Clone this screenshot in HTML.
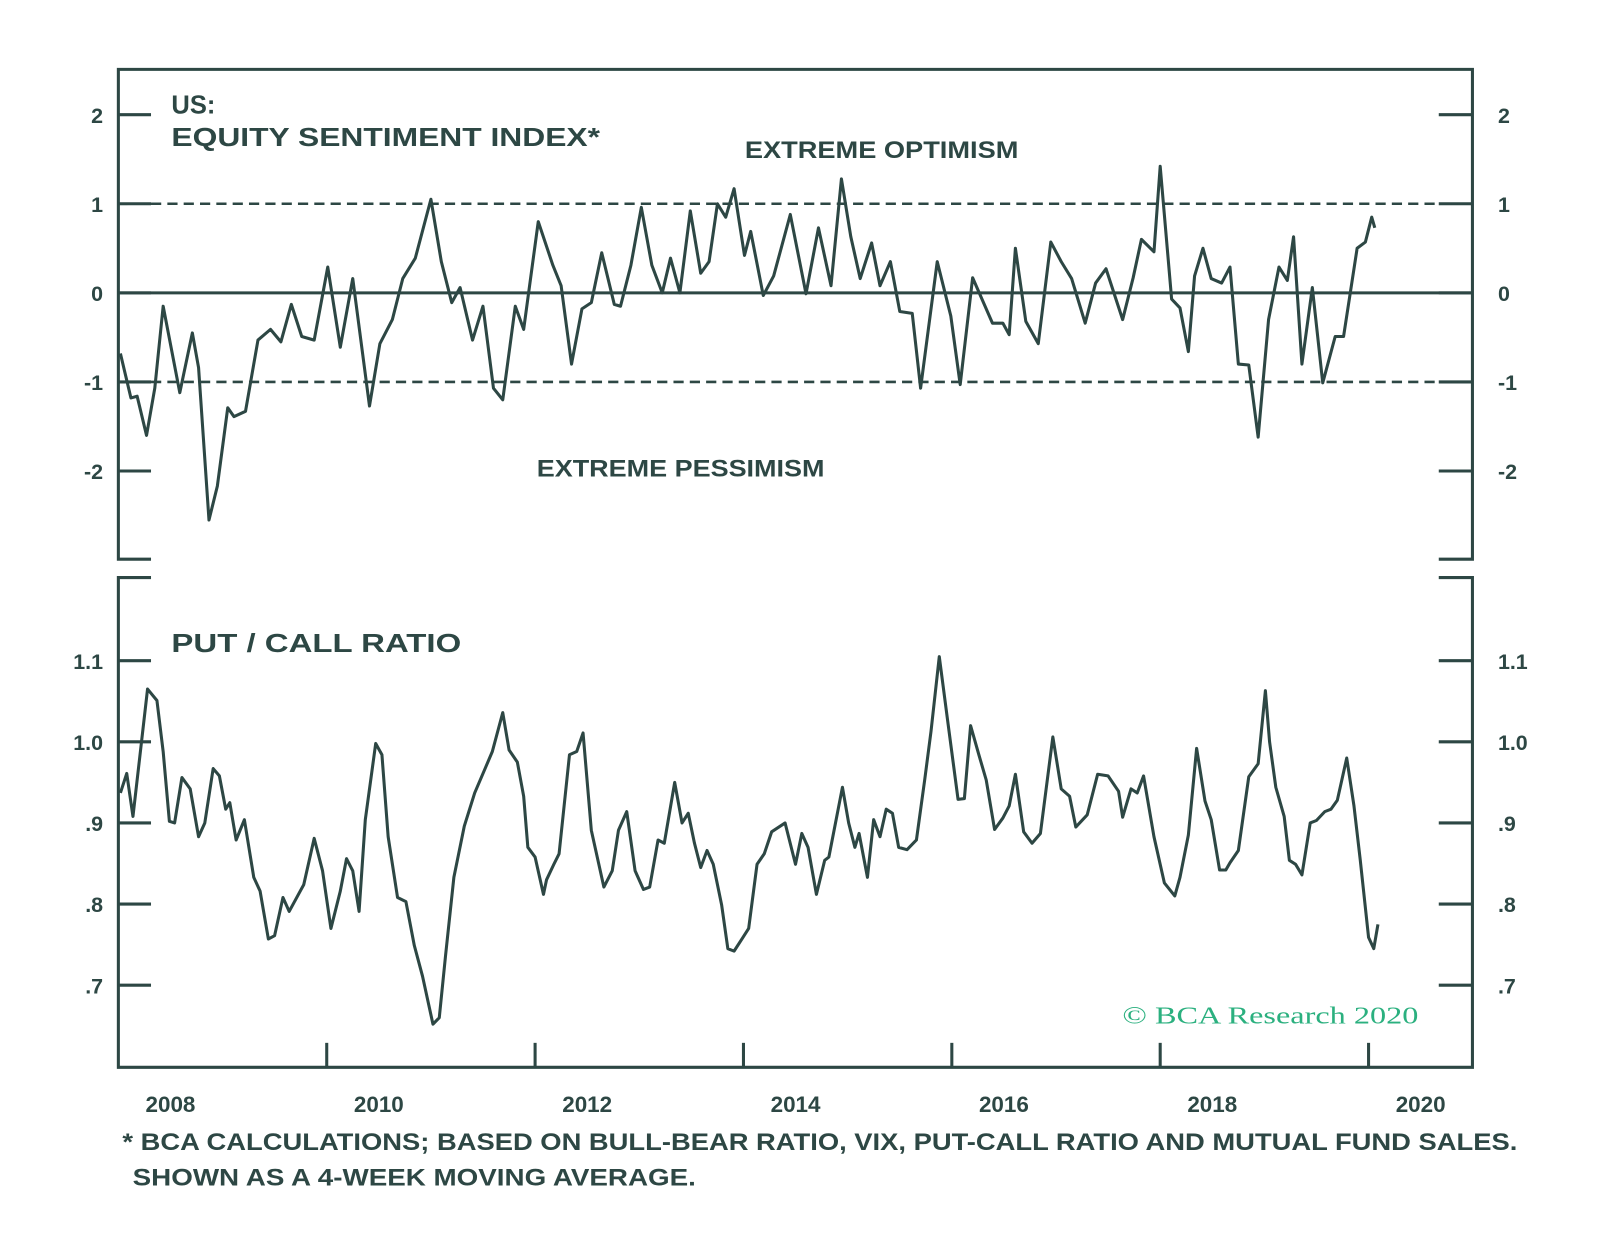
<!DOCTYPE html>
<html><head><meta charset="utf-8"><style>
html,body{margin:0;padding:0;background:#fff;}
svg{display:block;font-family:"Liberation Sans",sans-serif;}
</style></head><body>
<svg id="chart" width="1600" height="1234" viewBox="0 0 1600 1234">
<g transform="scale(1.0204)">
<g id="frames" fill="none" stroke="#2d4744" stroke-width="3">
<path d="M148,548 L116,548 L116,68 L1443,68 L1443,548 L1410,548"/>
<path d="M148,566 L116,566 L116,1046 L1443,1046 L1443,566 L1410,566"/>
</g>
<g id="texts" fill="#2d4744" font-weight="bold">
<text x="168" y="111" font-size="25">US:</text>
<text x="168" y="143" font-size="25" textLength="420" lengthAdjust="spacingAndGlyphs">EQUITY SENTIMENT INDEX*</text>
<text x="730" y="155" font-size="24" textLength="268" lengthAdjust="spacingAndGlyphs">EXTREME OPTIMISM</text>
<text x="526" y="467" font-size="24" textLength="282" lengthAdjust="spacingAndGlyphs">EXTREME PESSIMISM</text>
<text x="168" y="639" font-size="25" textLength="284" lengthAdjust="spacingAndGlyphs">PUT / CALL RATIO</text>
<text x="120" y="1127" font-size="24" textLength="1367" lengthAdjust="spacingAndGlyphs">* BCA CALCULATIONS; BASED ON BULL-BEAR RATIO, VIX, PUT-CALL RATIO AND MUTUAL FUND SALES.</text>
<text x="130" y="1162" font-size="24" textLength="552" lengthAdjust="spacingAndGlyphs">SHOWN AS A 4-WEEK MOVING AVERAGE.</text>
<text x="1100" y="1003" font-size="24" font-weight="normal" fill="#2bb07f" font-family="Liberation Serif, serif" textLength="290" lengthAdjust="spacingAndGlyphs">© BCA Research 2020</text>
</g>
<g id="axes"></g>
<g id="series"></g>
</g>
</svg>
<script>
const topYears=[2008.02,2008.12,2008.18,2008.27,2008.35,2008.43,2008.59,2008.71,2008.77,2008.87,2008.95,2009.05,2009.11,2009.22,2009.34,2009.46,2009.56,2009.66,2009.76,2009.88,2010.01,2010.13,2010.25,2010.41,2010.51,2010.63,2010.73,2010.85,2011.00,2011.10,2011.20,2011.28,2011.40,2011.50,2011.60,2011.69,2011.81,2011.89,2012.03,2012.17,2012.25,2012.35,2012.45,2012.54,2012.64,2012.76,2012.82,2012.92,2013.02,2013.12,2013.22,2013.30,2013.39,2013.49,2013.59,2013.67,2013.75,2013.83,2013.91,2014.01,2014.07,2014.19,2014.29,2014.45,2014.60,2014.72,2014.84,2014.94,2015.03,2015.12,2015.23,2015.31,2015.41,2015.50,2015.62,2015.70,2015.86,2015.99,2016.08,2016.20,2016.39,2016.49,2016.55,2016.61,2016.71,2016.83,2016.95,2017.05,2017.15,2017.28,2017.38,2017.48,2017.64,2017.74,2017.82,2017.94,2018.00,2018.11,2018.19,2018.27,2018.33,2018.41,2018.49,2018.59,2018.67,2018.75,2018.85,2018.94,2019.04,2019.14,2019.22,2019.28,2019.36,2019.46,2019.56,2019.68,2019.76,2019.89,2019.97,2020.03,2020.06];
const topValues=[-0.68,-1.18,-1.16,-1.60,-1.07,-0.15,-1.12,-0.45,-0.84,-2.55,-2.17,-1.29,-1.39,-1.33,-0.53,-0.41,-0.55,-0.13,-0.49,-0.53,0.29,-0.61,0.16,-1.27,-0.57,-0.30,0.16,0.39,1.05,0.35,-0.11,0.06,-0.53,-0.15,-1.07,-1.20,-0.15,-0.41,0.80,0.31,0.08,-0.80,-0.18,-0.11,0.45,-0.13,-0.15,0.31,0.96,0.31,0.00,0.39,0.00,0.92,0.22,0.35,1.00,0.85,1.17,0.42,0.69,-0.03,0.19,0.88,-0.01,0.73,0.08,1.28,0.63,0.16,0.56,0.08,0.35,-0.21,-0.23,-1.07,0.35,-0.26,-1.03,0.17,-0.34,-0.34,-0.47,0.50,-0.32,-0.57,0.57,0.35,0.16,-0.34,0.11,0.27,-0.30,0.17,0.60,0.46,1.42,-0.07,-0.17,-0.66,0.19,0.50,0.16,0.11,0.29,-0.80,-0.81,-1.62,-0.30,0.29,0.14,0.63,-0.80,0.06,-1.01,-0.49,-0.49,0.50,0.57,0.85,0.73];
const pcYears=[2008.02,2008.08,2008.14,2008.20,2008.28,2008.37,2008.43,2008.49,2008.54,2008.61,2008.69,2008.77,2008.83,2008.91,2008.97,2009.03,2009.07,2009.13,2009.21,2009.30,2009.36,2009.44,2009.50,2009.58,2009.64,2009.78,2009.88,2009.96,2010.04,2010.13,2010.19,2010.25,2010.31,2010.37,2010.47,2010.53,2010.59,2010.68,2010.76,2010.84,2010.92,2011.02,2011.08,2011.14,2011.22,2011.32,2011.42,2011.52,2011.59,2011.69,2011.75,2011.83,2011.89,2011.93,2012.00,2012.08,2012.11,2012.18,2012.23,2012.33,2012.40,2012.46,2012.54,2012.66,2012.74,2012.80,2012.88,2012.96,2013.04,2013.10,2013.18,2013.24,2013.34,2013.41,2013.47,2013.53,2013.59,2013.65,2013.71,2013.79,2013.85,2013.91,2013.99,2014.05,2014.13,2014.20,2014.27,2014.40,2014.50,2014.56,2014.62,2014.70,2014.78,2014.82,2014.95,2015.01,2015.07,2015.11,2015.19,2015.25,2015.31,2015.37,2015.43,2015.49,2015.57,2015.66,2015.74,2015.80,2015.88,2015.96,2016.06,2016.12,2016.18,2016.26,2016.33,2016.41,2016.49,2016.55,2016.61,2016.69,2016.77,2016.85,2016.97,2017.05,2017.13,2017.19,2017.30,2017.40,2017.50,2017.60,2017.64,2017.72,2017.78,2017.84,2017.94,2018.04,2018.14,2018.19,2018.27,2018.35,2018.43,2018.49,2018.57,2018.63,2018.67,2018.75,2018.85,2018.94,2019.01,2019.05,2019.11,2019.19,2019.24,2019.30,2019.36,2019.44,2019.50,2019.58,2019.64,2019.70,2019.79,2019.86,2019.92,2020.00,2020.05,2020.09];
const pcValues=[0.937,0.961,0.908,0.975,1.065,1.051,0.988,0.902,0.900,0.956,0.942,0.883,0.900,0.967,0.958,0.917,0.925,0.879,0.904,0.833,0.816,0.757,0.761,0.808,0.791,0.824,0.881,0.841,0.770,0.816,0.856,0.841,0.791,0.904,0.998,0.984,0.883,0.808,0.803,0.749,0.711,0.652,0.660,0.736,0.833,0.896,0.937,0.967,0.988,1.036,0.990,0.975,0.933,0.870,0.858,0.812,0.830,0.849,0.862,0.984,0.988,1.011,0.891,0.821,0.841,0.891,0.914,0.841,0.818,0.821,0.879,0.875,0.950,0.900,0.912,0.875,0.845,0.866,0.849,0.799,0.745,0.742,0.758,0.770,0.849,0.862,0.889,0.900,0.849,0.887,0.870,0.812,0.854,0.858,0.944,0.900,0.870,0.887,0.833,0.904,0.883,0.917,0.912,0.870,0.867,0.879,0.954,1.013,1.105,1.026,0.929,0.930,1.020,0.984,0.953,0.892,0.906,0.921,0.960,0.889,0.875,0.887,1.006,0.942,0.933,0.895,0.910,0.960,0.958,0.939,0.907,0.942,0.937,0.958,0.883,0.826,0.810,0.833,0.885,0.992,0.927,0.904,0.842,0.842,0.851,0.866,0.957,0.973,1.063,1.000,0.944,0.908,0.854,0.849,0.836,0.900,0.903,0.914,0.917,0.928,0.980,0.921,0.855,0.759,0.745,0.775];
const topTicks=[2,1,0,-1,-2];
const topTickLabels=["2","1","0","-1","-2"];
const pcTicks=[1.1,1.0,0.9,0.8,0.7];
const pcTickLabels=["1.1","1.0",".9",".8",".7"];
const yearTicks=[2010,2012,2014,2016,2018,2020];
const yearLabels=["2008","2010","2012","2014","2016","2018","2020"];
const yearLabelPos=[2008,2010,2012,2014,2016,2018,2020];

const NS="http://www.w3.org/2000/svg";
const C="#2d4744";
function xS(yr){return 116+(yr-2008)*102.1;}
function yTop(v){return 287-v*87.3;}
function yPc(v){return 727-(v-1.0)*795;}
function mk(tag,attrs,parent){const e=document.createElementNS(NS,tag);for(const k in attrs)e.setAttribute(k,attrs[k]);parent.appendChild(e);return e;}
const axes=document.getElementById('axes');
const series=document.getElementById('series');

topTicks.forEach((v,i)=>{
  const y=yTop(v);
  let t=mk('line',{x1:116,x2:148,y1:y,y2:y,stroke:C,'stroke-width':3},axes);
  
  
  t=mk('line',{x1:1410,x2:1443,y1:y,y2:y,stroke:C,'stroke-width':3},axes);
  
  
  let l=mk('text',{x:101,y:y+8,'text-anchor':'end','font-size':21,'font-weight':'bold',fill:C},axes);
  l.textContent=topTickLabels[i];
  
  
  l=mk('text',{x:1468,y:y+8,'font-size':21,'font-weight':'bold',fill:C},axes);
  l.textContent=topTickLabels[i];
  
  
});
[1,-1].forEach(v=>{
  const d=mk('line',{x1:116,x2:1443,y1:yTop(v),y2:yTop(v),stroke:C,'stroke-width':2.5,'stroke-dasharray':'10 6'},axes);
  
  
});
const z=mk('line',{x1:116,x2:1443,y1:yTop(0),y2:yTop(0),stroke:C,'stroke-width':3},axes);



pcTicks.forEach((v,i)=>{
  const y=yPc(v);
  let t=mk('line',{x1:116,x2:148,y1:y,y2:y,stroke:C,'stroke-width':3},axes);
  
  
  t=mk('line',{x1:1410,x2:1443,y1:y,y2:y,stroke:C,'stroke-width':3},axes);
  
  
  let l=mk('text',{x:101,y:y+8,'text-anchor':'end','font-size':21,'font-weight':'bold',fill:C},axes);
  l.textContent=pcTickLabels[i];
  
  
  l=mk('text',{x:1468,y:y+8,'font-size':21,'font-weight':'bold',fill:C},axes);
  l.textContent=pcTickLabels[i];
  
  
});
yearTicks.forEach(yr=>{
  const x=xS(yr);
  const t=mk('line',{x1:x,x2:x,y1:1046,y2:1022,stroke:C,'stroke-width':3},axes);
  
  
});
yearLabels.forEach((s,i)=>{
  const l=mk('text',{x:xS(yearLabelPos[i]+0.5),y:1090,'text-anchor':'middle','font-size':22,'font-weight':'bold',fill:C},axes);
  l.textContent=s;
  
  
});

function line(xs,vs,yf,name){
  const d=xs.map((yr,i)=>(i?'L':'M')+xS(yr).toFixed(1)+','+yf(vs[i]).toFixed(1)).join(' ');
  const p=mk('path',{d:d,fill:'none',stroke:C,'stroke-width':3,'stroke-linejoin':'round'},series);
  
  
}
line(topYears,topValues,yTop,'equity-sentiment-line');
line(pcYears,pcValues,yPc,'put-call-ratio-line');
</script>
</body></html>
